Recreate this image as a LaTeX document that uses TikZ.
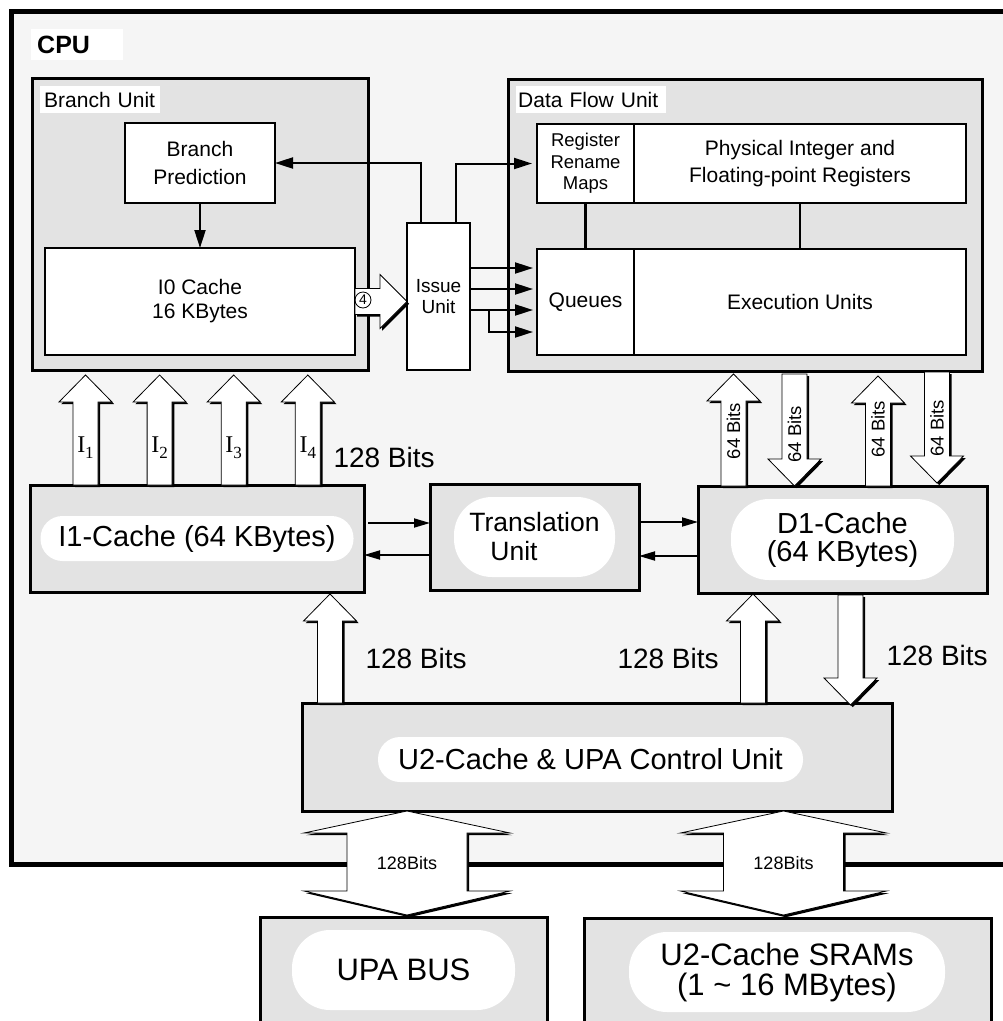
\documentclass[tikz,border=0pt]{standalone}
\usepackage{fontspec}
\setmainfont{Liberation Sans}
\newfontfamily\timesfont{Liberation Serif}
\usetikzlibrary{arrows.meta,positioning,calc,shadows}
\definecolor{cpugray}{HTML}{F5F5F5}
\definecolor{unitgray}{HTML}{E3E3E3}
\newcommand{\fsz}[2]{\fontsize{#1}{#2}\selectfont}
% fat bus arrows, first argument = x of the shaft centre
\newcommand{\fatup}[3]{%
  \draw[fatarr] let \p1=(#2), \p2=(#3) in
    ({(#1-12.5)*1pt},\y1) -- ({(#1-12.5)*1pt},{\y2-27pt}) -- ({(#1-26.5)*1pt},{\y2-27pt})
    -- ({#1*1pt},\y2) -- ({(#1+26.5)*1pt},{\y2-27pt}) -- ({(#1+12.5)*1pt},{\y2-27pt})
    -- ({(#1+12.5)*1pt},\y1) -- cycle}
\newcommand{\fatdown}[3]{%
  \draw[fatarr] let \p1=(#2), \p2=(#3) in
    ({(#1-12.5)*1pt},\y1) -- ({(#1-12.5)*1pt},{\y2+27pt}) -- ({(#1-26.5)*1pt},{\y2+27pt})
    -- ({#1*1pt},\y2) -- ({(#1+26.5)*1pt},{\y2+27pt}) -- ({(#1+12.5)*1pt},{\y2+27pt})
    -- ({(#1+12.5)*1pt},\y1) -- cycle}
\newcommand{\fatboth}[3]{%
  \draw[fatarr] let \p1=(#2), \p2=(#3) in
    ({#1*1pt},\y1) -- ({(#1+103)*1pt},{\y1-22pt}) -- ({(#1+60)*1pt},{\y1-22pt})
    -- ({(#1+60)*1pt},{\y2+24pt}) -- ({(#1+103)*1pt},{\y2+24pt}) -- ({#1*1pt},\y2)
    -- ({(#1-103)*1pt},{\y2+24pt}) -- ({(#1-60)*1pt},{\y2+24pt})
    -- ({(#1-60)*1pt},{\y1-22pt}) -- ({(#1-103)*1pt},{\y1-22pt}) -- cycle}

\begin{document}
\begin{tikzpicture}[x=1pt,y=-1pt,
  unit/.style={draw,line width=3pt,fill=unitgray,anchor=north west,inner sep=0pt,outer sep=0pt},
  cell/.style={draw,line width=1.6pt,fill=white,align=center,inner sep=0pt,outer sep=0pt,font=\fsz{21}{27}},
  tag/.style={fill=white,anchor=north west,align=left,inner xsep=4pt,inner ysep=0pt,minimum height=27pt,font=\fsz{21}{25}},
  pill/.style={fill=white,align=center,inner sep=0pt,font=\fsz{29}{28}},
  link/.style={line width=2pt,-{Triangle[length=18pt,width=11pt]}},
  xlink/.style={line width=1.8pt,-{Triangle[length=16pt,width=9pt]}},
  fatarr/.style={draw,line width=0.8pt,fill=white,drop shadow={shadow xshift=2.2pt,shadow yshift=-2.2pt,fill=black,opacity=1}},
  bits/.style={anchor=base west,font=\fsz{28}{30}},
  wire/.style={line width=2.4pt}]

\fill[white] (0,0) rectangle (1003,1021);
\clip (0,0) rectangle (1003,1021);

% CPU frame
\node[draw,line width=5pt,fill=cpugray,anchor=north west,minimum width=1020pt,minimum height=853pt,inner sep=0pt] (cpu) at (9,9) {};
\node[tag,text width=80pt,inner xsep=6pt,minimum height=31pt,font=\fsz{25}{25}\bfseries] (cputag) at (31,29) {CPU};

% branch unit
\node[unit,minimum width=336pt,minimum height=292pt] (bu) at (32,78) {};
\node[tag,text width=112pt] (butag) at (40,86) {Branch Unit};
\node[cell,anchor=north west,minimum width=150pt,minimum height=80pt,font=\fsz{21}{27.5}] (bp) at (125,123) {Branch\\Prediction};
\node[cell,anchor=north west,minimum width=310pt,minimum height=107pt,font=\fsz{21}{24}] (i0) at (45,248) {I0 Cache\\16 KBytes};
\node[cell,anchor=north west,minimum width=63pt,minimum height=147pt,font=\fsz{19}{21}] (iss) at (407,223) {Issue\\Unit};

% data flow unit
\node[unit,minimum width=474pt,minimum height=292pt] (dfu) at (508,79) {};
\node[tag,text width=146pt,inner xsep=2pt] (dfutag) at (516,86) {Data Flow Unit};
\node[cell,anchor=north west,minimum width=97pt,minimum height=79pt,font=\fsz{18.5}{21.5}] (rrm) at (537,124) {Register\\Rename\\Maps};
\node[cell,minimum width=332pt,minimum height=79pt,right=0pt of rrm] (regs) {Physical Integer and\\Floating-point Registers};
\node[cell,anchor=north west,minimum width=97pt,minimum height=106pt] (que) at (537,249) {Queues};
\node[cell,minimum width=332pt,minimum height=106pt,right=0pt of que] (exu) {Execution Units};

% first level caches
\node[unit,minimum width=334pt,minimum height=107pt] (i1) at (30,485) {};
\node[pill,rounded corners=22pt,minimum width=313pt,minimum height=45pt] (i1t) at (i1.center) {I1-Cache (64 KBytes)};
\node[unit,minimum width=209pt,minimum height=106pt] (tu) at (430,484) {};
\node[pill,rounded corners=38pt,minimum width=161pt,minimum height=80pt,align=left,font=\fsz{26.5}{29}] (tut) at (tu.center) {Translation\\\hspace*{21pt}Unit};
\node[unit,minimum width=289pt,minimum height=107pt] (d1) at (698,486) {};
\node[pill,rounded corners=38pt,minimum width=223pt,minimum height=81pt] (d1t) at (d1.center) {D1-Cache\\(64 KBytes)};

% second level and outside
\node[unit,minimum width=590pt,minimum height=108pt] (u2) at (302,703) {};
\node[pill,rounded corners=22pt,minimum width=425pt,minimum height=45pt] (u2t) at (590.5,759.5) {U2-Cache \& UPA Control Unit};
\node[unit,minimum width=287pt,minimum height=130pt] (upa) at (260,917) {};
\node[pill,rounded corners=38pt,minimum width=223pt,minimum height=80pt,font=\fsz{31}{30}] (upat) at (403.5,970) {UPA BUS};
\node[unit,minimum width=407pt,minimum height=130pt] (sram) at (584,918) {};
\node[pill,rounded corners=38pt,minimum width=316pt,minimum height=80pt,font=\fsz{31}{30}] (sramt) at (787,972) {U2-Cache SRAMs\\(1 \textasciitilde{} 16 MBytes)};

% thin connectors
\draw[link] (bp) -- (i0);
\draw[link] ([xshift=-17.5pt]iss.north) |- (bp.east);
\draw[link,shorten >=5pt] ([xshift=17.5pt]iss.north) |- (rrm.west);
\foreach \yy in {268,289,310}
  \draw[link,shorten >=4pt] (iss.east |- 0,\yy) -- (que.west |- 0,\yy);
\coordinate (fork) at (489,310);
\draw[link,shorten >=4pt] (fork) |- (que.west |- 0,332);
\draw[wire] (rrm) -- (que);
\draw[wire] (regs) -- (exu);
\draw[xlink,shorten <=4pt] (i1.east |- 0,523) -- (tu.west |- 0,523);
\draw[xlink,shorten <=1pt] (tu.west |- 0,555) -- (i1.east |- 0,555);
\draw[xlink,shorten <=2pt] (tu.east |- 0,522) -- (d1.west |- 0,522);
\draw[xlink] (d1.west |- 0,556) -- (tu.east |- 0,556);

% fat arrows
\draw[fatarr] let \p1=(i0.east), \p2=(iss.west) in
  (\x1,{\y1+13pt}) -- ({\x2-27pt},{\y1+13pt}) -- ({\x2-27pt},{\y1+27pt}) -- (\x2,\y1)
  -- ({\x2-27pt},{\y1-27pt}) -- ({\x2-27pt},{\y1-13pt}) -- (\x1,{\y1-13pt}) -- cycle;
\node[circle,draw,line width=0.8pt,inner sep=0pt,minimum size=16pt,font=\fsz{14}{14}] (four) at (363,300) {4};

\foreach \xx in {85.5,159.6,233.7,307.8}
  \fatup{\xx}{i1.north}{$(bu.south)+(0,5)$};
\foreach \xx/\n in {85.5/1,159.6/2,233.7/3,307.8/4}
  \node[anchor=base,inner sep=0pt,font=\timesfont\fsz{24}{24}] (ilab\n) at (\xx,452) {I\raisebox{-6pt}{\fsz{17}{17}\n}};
\node[bits] (b128a) at (330,467) {128 Bits};

\fatup{733.5}{d1.north}{$(dfu.south)+(0,3)$};
\fatdown{794.5}{$(dfu.south)+(0,3)$}{d1.north};
\fatup{878}{d1.north}{$(dfu.south)+(0,5)$};
\fatdown{937}{$(dfu.south)+(0,1)$}{$(d1.north)+(0,-3)$};
\foreach \xx/\yy/\n in {733.5/431/1,794.5/434/2,878/429/3,937/428/4}
  \node[rotate=90,inner sep=0pt,font=\fsz{18.5}{20}] (b64\n) at (\xx,\yy) {64 Bits};

\fatup{330}{u2.north}{$(i1.south)+(0,2)$};
\fatup{753}{u2.north}{$(d1.south)+(0,1)$};
\fatdown{850.5}{$(d1.south)+(0,2)$}{$(u2.north)+(0,2)$};
\node[bits] (b128b) at (362,668) {128 Bits};
\node[bits] (b128c) at (614,668) {128 Bits};
\node[bits] (b128d) at (883,665) {128 Bits};

\fatboth{407}{u2.south}{$(upa.north)+(0,-2)$};
\fatboth{783.5}{u2.south}{$(sram.north)+(0,-3)$};
\node[anchor=base,font=\fsz{18}{18}] (b128e) at (407,869) {128Bits};
\node[anchor=base,font=\fsz{18}{18}] (b128f) at (783.5,869) {128Bits};
\end{tikzpicture}
\end{document}
